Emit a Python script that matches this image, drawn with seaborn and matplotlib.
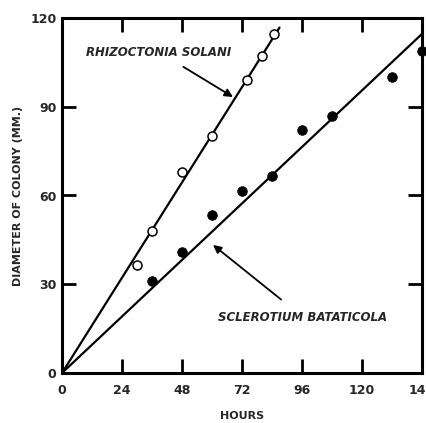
import numpy as np
import pandas as pd
import matplotlib
matplotlib.use("Agg")
import matplotlib.pyplot as plt
import seaborn as sns

# Rhizoctonia solani (open circles)
rhizo_hours = [30, 36, 48, 60, 74, 80, 85]
rhizo_diam = [36.5, 48, 68, 80, 99, 107, 114.5]

# Sclerotium bataticola (filled circles)
scler_hours = [36, 48, 60, 72, 84, 96, 108, 132, 144]
scler_diam = [31, 41, 53.5, 61.5, 66.5, 82, 87, 100, 109]

x_ticks = [0, 24, 48, 72, 96, 120, 144]
y_ticks = [0, 30, 60, 90, 120]

sns.set_style("ticks")
plt.rcParams['font.family'] = ['DejaVu Sans']


def slope_through_origin(x, y):
    x = np.asarray(x, float)
    y = np.asarray(y, float)
    return (x * y).sum() / (x * x).sum()


fig = plt.figure(figsize=(4.27, 4.23), dpi=100)
ax = fig.add_axes([62 / 427, 50 / 423, 360 / 427, 355 / 423])

# fitted lines through the origin
k_r = slope_through_origin(rhizo_hours, rhizo_diam)
k_s = slope_through_origin(scler_hours, scler_diam)
fit_r = pd.DataFrame({"h": [0, max(rhizo_hours) + 2]})
fit_r["d"] = fit_r["h"] * k_r
fit_s = pd.DataFrame({"h": [0, 150]})
fit_s["d"] = fit_s["h"] * k_s
sns.lineplot(data=fit_r, x="h", y="d", color="black", lw=1.6, ax=ax)
sns.lineplot(data=fit_s, x="h", y="d", color="black", lw=1.6, ax=ax)

rhizo = pd.DataFrame({"h": rhizo_hours, "d": rhizo_diam})
scler = pd.DataFrame({"h": scler_hours, "d": scler_diam})
sns.scatterplot(data=rhizo, x="h", y="d", marker="o", s=42, facecolor="white",
                edgecolor="black", linewidth=1.1, zorder=3, ax=ax)
sns.scatterplot(data=scler, x="h", y="d", marker="o", s=48, color="black",
                edgecolor="black", zorder=3, clip_on=False, ax=ax)

ax.set_xlim(0, 144)
ax.set_ylim(0, 120)
ax.set_xticks(x_ticks)
ax.set_yticks(y_ticks)
ax.set_xticklabels([str(t) for t in x_ticks], fontsize=9, fontweight="bold")
ax.set_yticklabels([str(t) for t in y_ticks], fontsize=9, fontweight="bold")
ax.tick_params(axis="both", direction="in", length=10, width=2,
               top=True, right=True, color="black")
ax.tick_params(axis="x", pad=8)
ax.tick_params(axis="y", pad=4)
for sp in ax.spines.values():
    sp.set_linewidth(2.2)
    sp.set_color("black")

ax.set_xlabel("HOURS", fontsize=8, fontweight="bold", labelpad=10)
ax.set_ylabel("DIAMETER OF COLONY (MM.)", fontsize=8, fontweight="bold", labelpad=5)

ax.annotate("RHIZOCTONIA SOLANI", xy=(68.4, 93.3), xytext=(38.8, 108.5),
            ha="center", va="center", fontsize=8.5, fontweight="bold", style="italic",
            arrowprops=dict(arrowstyle="-|>", color="black", lw=1.3,
                            shrinkA=7, shrinkB=0, mutation_scale=12))
ax.annotate("SCLEROTIUM BATATICOLA", xy=(60.4, 43.3), xytext=(96.4, 18.9),
            ha="center", va="center", fontsize=8.5, fontweight="bold", style="italic",
            arrowprops=dict(arrowstyle="-|>", color="black", lw=1.3,
                            shrinkA=9, shrinkB=0, mutation_scale=12))

fig.savefig("out.png", dpi=100)
